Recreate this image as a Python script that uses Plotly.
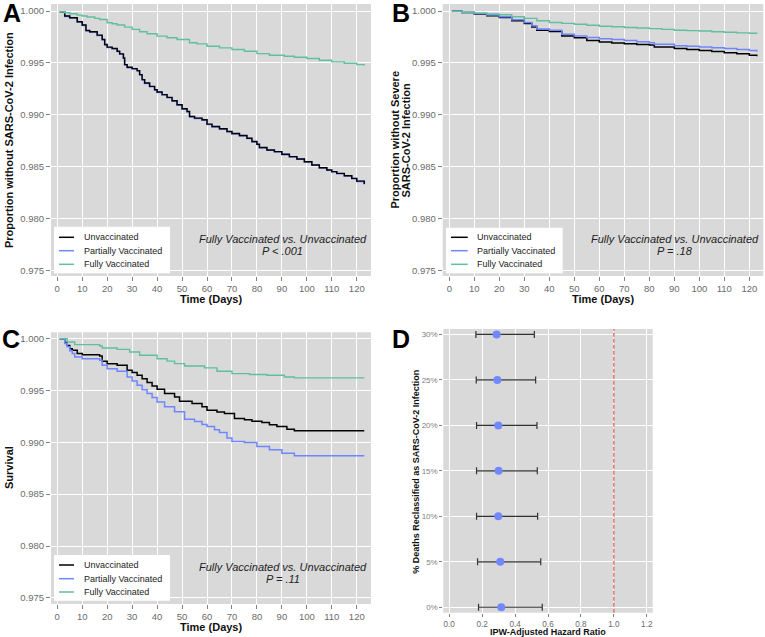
import plotly.graph_objects as go

W, H = 765, 637
FONT = "Liberation Sans, Arial, Helvetica, sans-serif"
C_UNVAX = "#000000"
C_PART = "#6F86FF"
C_FULL = "#5FBF9F"
PANEL_BG = "#D9D9D9"
TICK_COL = "#6B6B6B"

# ---------------- Panel A: any SARS-CoV-2 infection ----------------
a_days = [1, 3, 5, 8, 10, 11.5, 13, 16, 18, 19, 20, 22, 24, 25, 26.5, 27, 28, 30, 32, 33, 34, 35, 37, 39, 40,
          42, 44, 46, 48, 50, 52, 53, 55, 58, 60, 62, 65, 68, 70, 73, 76, 78, 80, 81, 84, 87, 90, 93, 96,
          99, 102, 105, 108, 110, 112, 115, 118, 120, 123]
a_unvax = [0.99994, 0.99952, 0.99936, 0.99897, 0.99865, 0.99813, 0.99800, 0.99768, 0.99726, 0.99677, 0.99652,
           0.99639, 0.99613, 0.99587, 0.99548, 0.99484, 0.99458, 0.99445, 0.99426, 0.99387, 0.99339, 0.99306,
           0.99274, 0.99242, 0.99219, 0.99194, 0.99168, 0.99135, 0.99097, 0.99058, 0.99032, 0.98984, 0.98968,
           0.98952, 0.98910, 0.98887, 0.98865, 0.98839, 0.98819, 0.98800, 0.98774, 0.98742, 0.98716, 0.98684,
           0.98661, 0.98645, 0.98619, 0.98597, 0.98574, 0.98548, 0.98516, 0.98490, 0.98468, 0.98452, 0.98435,
           0.98413, 0.98387, 0.98361, 0.98332]
a_partial = [0.99994, 0.99949, 0.99933, 0.99894, 0.99862, 0.99810, 0.99797, 0.99765, 0.99723, 0.99674, 0.99649,
             0.99636, 0.99610, 0.99584, 0.99545, 0.99481, 0.99455, 0.99442, 0.99423, 0.99384, 0.99336, 0.99303,
             0.99271, 0.99239, 0.99216, 0.99191, 0.99165, 0.99132, 0.99094, 0.99055, 0.99029, 0.98981, 0.98965,
             0.98949, 0.98907, 0.98884, 0.98862, 0.98836, 0.98816, 0.98797, 0.98771, 0.98739, 0.98713, 0.98681,
             0.98658, 0.98642, 0.98616, 0.98594, 0.98571, 0.98545, 0.98513, 0.98487, 0.98465, 0.98449, 0.98432,
             0.98410, 0.98384, 0.98358, 0.98329]
a_full_days = [1, 3, 5, 8, 10, 12, 15, 17, 20, 22, 24, 27, 30, 33, 36, 40, 44, 48, 53, 56, 60, 65, 70, 75, 80,
               85, 91, 95, 100, 105, 110, 115, 120, 123]
a_full = [0.99994, 0.99984, 0.99974, 0.99961, 0.99952, 0.99942, 0.99929, 0.99919, 0.99887, 0.99877, 0.99865,
          0.99845, 0.99823, 0.99800, 0.99781, 0.99758, 0.99742, 0.99726, 0.99694, 0.99684, 0.99661, 0.99645,
          0.99629, 0.99613, 0.99590, 0.99574, 0.99565, 0.99555, 0.99542, 0.99526, 0.99510, 0.99497, 0.99484,
          0.99474]

# ---------------- Panel B: severe SARS-CoV-2 infection ----------------
b_days = [1, 5, 10, 15, 20, 25, 30, 33, 35, 40, 45, 50, 55, 60, 65, 70, 75, 80, 82, 90, 95, 100, 105, 110, 115,
          120, 123]
b_unvax = [0.99997, 0.99985, 0.99971, 0.99955, 0.99938, 0.99906, 0.99880, 0.99847, 0.99815, 0.99802, 0.99760,
           0.99743, 0.99717, 0.99701, 0.99692, 0.99685, 0.99678, 0.99672, 0.99653, 0.99640, 0.99630, 0.99620,
           0.99610, 0.99597, 0.99588, 0.99575, 0.99565]
b_partial = [0.99997, 0.99987, 0.99977, 0.99962, 0.99945, 0.99915, 0.99890, 0.99858, 0.99828, 0.99815, 0.99776,
             0.99760, 0.99745, 0.99734, 0.99725, 0.99717, 0.99705, 0.99695, 0.99679, 0.99666, 0.99660, 0.99653,
             0.99647, 0.99640, 0.99630, 0.99620, 0.99607]
b_full_days = [1, 5, 10, 15, 20, 25, 30, 35, 40, 45, 50, 55, 60, 65, 70, 75, 80, 85, 90, 95, 100, 105, 110, 115,
               120, 123]
b_full = [0.99997, 0.99988, 0.99980, 0.99972, 0.99964, 0.99945, 0.99929, 0.99906, 0.99890, 0.99881, 0.99873,
          0.99863, 0.99854, 0.99848, 0.99841, 0.99836, 0.99831, 0.99823, 0.99815, 0.99811, 0.99808, 0.99801,
          0.99795, 0.99790, 0.99786, 0.99782]

# ---------------- Panel C: survival ----------------
c_unvax_days = [1, 3, 4, 5, 6, 8, 10, 17, 18, 20, 24, 28, 30, 32, 34, 36, 38, 40, 43, 47, 49, 54, 58, 60, 64, 67,
                71, 75, 78, 82, 85, 88, 92, 95, 123]
c_unvax = [0.99994, 0.99960, 0.99930, 0.99900, 0.99885, 0.99853, 0.99843, 0.99830, 0.99779, 0.99756, 0.99740,
           0.99692, 0.99670, 0.99644, 0.99610, 0.99574, 0.99542, 0.99510, 0.99468, 0.99436, 0.99394, 0.99372,
           0.99340, 0.99308, 0.99290, 0.99276, 0.99228, 0.99215, 0.99202, 0.99190, 0.99167, 0.99151, 0.99125,
           0.99109, 0.99109]
c_partial_days = [1, 3, 4, 5, 6, 7, 10, 17, 18, 20, 24, 28, 30, 32, 34, 36, 38, 40, 43, 47, 51, 55, 58, 60, 63,
                  65, 68, 70, 75, 80, 85, 90, 95, 123]
c_partial = [0.99994, 0.99950, 0.99920, 0.99880, 0.99853, 0.99821, 0.99804, 0.99788, 0.99740, 0.99708, 0.99683,
             0.99628, 0.99590, 0.99548, 0.99505, 0.99468, 0.99430, 0.99388, 0.99340, 0.99292, 0.99221, 0.99199,
             0.99170, 0.99151, 0.99120, 0.99093, 0.99040, 0.99006, 0.98997, 0.98958, 0.98926, 0.98894, 0.98869,
             0.98869]
c_full_days = [1, 4, 7, 17, 18, 24, 29, 33, 40, 44, 47, 51, 59, 64, 70, 77, 84, 91, 95, 123]
c_full = [0.99997, 0.99965, 0.99939, 0.99926, 0.99907, 0.99894, 0.99869, 0.99837, 0.99804, 0.99780, 0.99756,
          0.99734, 0.99715, 0.99683, 0.99660, 0.99651, 0.99644, 0.99628, 0.99619, 0.99619]

# ---------------- Panel D: sensitivity analysis ----------------
d_labels = ["0%", "5%", "10%", "15%", "20%", "25%", "30%"]
d_hr = [0.316, 0.310, 0.298, 0.300, 0.298, 0.292, 0.288]
d_lo = [0.178, 0.172, 0.166, 0.166, 0.166, 0.164, 0.162]
d_hi = [0.565, 0.556, 0.537, 0.535, 0.533, 0.525, 0.517]

series_names = ["Unvaccinated", "Partially Vaccinated", "Fully Vaccinated"]
series_colors = [C_UNVAX, C_PART, C_FULL]
y_ticks = [0.975, 0.980, 0.985, 0.990, 0.995, 1.000]
x_ticks = list(range(0, 121, 10))


def px(p):
    return p / W


def py(p):
    return 1 - p / H


fig = go.Figure()


def km(xa, ya, x, y, color, width):
    fig.add_trace(go.Scatter(x=x, y=y, mode="lines", line=dict(color=color, width=width, shape="hv"),
                             xaxis=xa, yaxis=ya, showlegend=False, hoverinfo="skip"))


km("x", "y", a_days, a_partial, C_PART, 1.6)
km("x", "y", a_days, a_unvax, C_UNVAX, 1.4)
km("x", "y", a_full_days, a_full, C_FULL, 1.4)
km("x2", "y2", b_days, b_unvax, C_UNVAX, 1.5)
km("x2", "y2", b_days, b_partial, C_PART, 1.5)
km("x2", "y2", b_full_days, b_full, C_FULL, 1.4)
km("x3", "y3", c_unvax_days, c_unvax, C_UNVAX, 1.5)
km("x3", "y3", c_partial_days, c_partial, C_PART, 1.5)
km("x3", "y3", c_full_days, c_full, C_FULL, 1.4)

fig.add_trace(go.Scatter(
    x=d_hr, y=d_labels, mode="markers", xaxis="x4", yaxis="y4", showlegend=False, hoverinfo="skip",
    marker=dict(color="#7288FF", size=8, line=dict(width=0)),
    error_x=dict(type="data", symmetric=False,
                 array=[h - m for h, m in zip(d_hi, d_hr)],
                 arrayminus=[m - l for m, l in zip(d_hr, d_lo)],
                 color="#333333", thickness=1.2, width=3.5)))

axis_common = dict(showgrid=True, gridcolor="white", gridwidth=1, zeroline=False, showline=False,
                   ticks="outside", ticklen=4, tickwidth=1, tickcolor="#7F7F7F",
                   tickfont=dict(family=FONT, size=9.5, color=TICK_COL))

x_km = dict(axis_common, range=[-2.5, 125.7], tickvals=x_ticks)
y_km = dict(axis_common, tickvals=y_ticks, tickformat=".3f")

fig.update_layout(
    width=W, height=H, margin=dict(l=0, r=0, t=0, b=0),
    paper_bgcolor="white", plot_bgcolor=PANEL_BG,
    font=dict(family=FONT),
    xaxis=dict(x_km, domain=[px(51), px(371)], anchor="y"),
    yaxis=dict(y_km, domain=[py(276), py(4)], range=[0.97446, 1.00068], anchor="x"),
    xaxis2=dict(x_km, domain=[px(442.7), px(763.3)], range=[-2.65, 125.6], anchor="y2"),
    yaxis2=dict(y_km, domain=[py(276), py(4)], range=[0.97446, 1.00068], anchor="x2"),
    xaxis3=dict(x_km, domain=[px(51), px(371)], anchor="y3"),
    yaxis3=dict(y_km, domain=[py(604), py(332.3)], range=[0.97442, 1.00058], anchor="x3"),
    xaxis4=dict(axis_common, domain=[px(443.3), px(652.7)], range=[-0.036, 1.236], anchor="y4",
                tickvals=[0, 0.2, 0.4, 0.6, 0.8, 1.0, 1.2], tickformat=".1f", ticklen=3,
                tickfont=dict(family=FONT, size=8.2, color=TICK_COL)),
    yaxis4=dict(axis_common, domain=[py(612.7), py(329)], range=[-0.12, 6.12], anchor="x4",
                type="category", categoryorder="array", categoryarray=d_labels, ticklen=3,
                tickfont=dict(family=FONT, size=8, color="#7F7F7F")),
)

shapes = []
annotations = []

# reference line at HR = 1 in panel D
shapes.append(dict(type="line", xref="x4", yref="y4 domain", x0=1.0, x1=1.0, y0=0, y1=1,
                   line=dict(color="#E06C6C", width=1.4, dash="4px,2px"), layer="above"))


def legend(x_left, x_right, y_top, y_bot, rows_y, sw_x0, sw_x1, txt_x):
    shapes.append(dict(type="rect", xref="paper", yref="paper", x0=px(x_left), x1=px(x_right),
                       y0=py(y_bot), y1=py(y_top), fillcolor="white", line=dict(width=0), layer="above"))
    for name, col, ry in zip(series_names, series_colors, rows_y):
        shapes.append(dict(type="line", xref="paper", yref="paper", x0=px(sw_x0), x1=px(sw_x1),
                           y0=py(ry), y1=py(ry), line=dict(color=col, width=1.5), layer="above"))
        annotations.append(dict(text=name, xref="paper", yref="paper", x=px(txt_x), y=py(ry),
                                xanchor="left", yanchor="middle", showarrow=False,
                                font=dict(family=FONT, size=9, color="#222222")))


legend(54, 170, 226.7, 273.3, [237.3, 250.7, 264.3], 59, 74, 81.5)
legend(446, 562.7, 227.7, 273.3, [237.3, 250.7, 264.3], 451, 467.7, 474.5)
legend(54, 170, 555, 600.7, [565, 578.7, 592], 59, 74, 81.5)


def text(t, x, y, size, bold=False, italic=False, angle=0, color="#111111", xanchor="center"):
    if bold:
        t = "<b>" + t + "</b>"
    if italic:
        t = "<i>" + t + "</i>"
    annotations.append(dict(text=t, xref="paper", yref="paper", x=px(x), y=py(y), xanchor=xanchor,
                            yanchor="middle", showarrow=False, textangle=angle,
                            font=dict(family=FONT, size=size, color=color)))


# p-value annotations
for cx, y1, y2, ptxt in [(282.5, 239.3, 250.7, "P &lt; .001"), (675, 239.3, 250.7, "P = .18"),
                         (282.5, 567.3, 578.7, "P = .11")]:
    text("Fully Vaccinated vs. Unvaccinated", cx, y1, 11, italic=True, color="#222222")
    text(ptxt, cx, y2, 11, italic=True, color="#222222")

# axis titles
text("Time (Days)", 211, 299, 11, bold=True)
text("Time (Days)", 603, 299.3, 11, bold=True)
text("Time (Days)", 211, 626.7, 11, bold=True)
text("IPW-Adjusted Hazard Ratio", 548.3, 631.5, 9, bold=True)
text("Proportion without SARS-CoV-2 Infection", 9, 140, 11, bold=True, angle=-90)
text("Proportion without Severe", 394.5, 140, 11, bold=True, angle=-90)
text("SARS-CoV-2 Infection", 405.5, 140, 11, bold=True, angle=-90)
text("Survival", 9, 468, 11, bold=True, angle=-90)
text("% Deaths Reclassified as SARS-CoV-2 Infection", 416, 471.7, 9, bold=True, angle=-90)

# panel letters
text("A", 1, 13, 25, bold=True, color="#000000", xanchor="left")
text("B", 390, 13, 25, bold=True, color="#000000", xanchor="left")
text("C", 0, 338.5, 25, bold=True, color="#000000", xanchor="left")
text("D", 390, 338.5, 25, bold=True, color="#000000", xanchor="left")

fig.update_layout(shapes=shapes, annotations=annotations)
fig.write_html("out.html", config={"displayModeBar": False},
               post_script="document.body.style.margin='0';document.body.style.padding='0';")
